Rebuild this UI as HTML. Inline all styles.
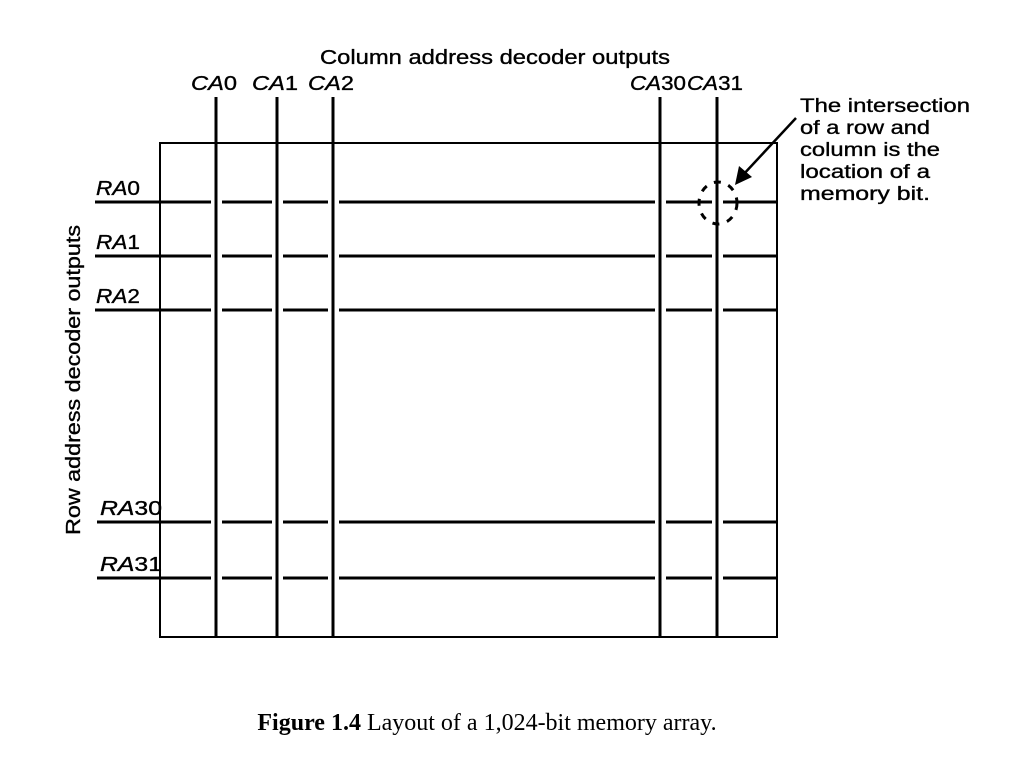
<!DOCTYPE html>
<html><head><meta charset="utf-8"><style>
html,body{margin:0;padding:0;background:#fff;}
svg{display:block;}
text{font-family:"Liberation Sans",Arial,sans-serif;fill:#000;stroke:#000;stroke-width:0.35;}
.cap{stroke:none;}
</style></head><body>
<svg id="fig" width="1020" height="768" viewBox="0 0 1020 768">
<text x="320" y="64" font-size="20" textLength="350" lengthAdjust="spacingAndGlyphs">Column address decoder outputs</text>
<text transform="translate(80,535) rotate(-90)" font-size="20" textLength="310" lengthAdjust="spacingAndGlyphs">Row address decoder outputs</text>
<rect x="160" y="143" width="617" height="494" fill="none" stroke="#000" stroke-width="2"/>
<g id="cols"></g><g id="rows"></g>
<ellipse cx="718" cy="203" rx="19" ry="21" fill="none" stroke="#000" stroke-width="3" stroke-dasharray="7,8"/>
<line x1="796" y1="118" x2="742" y2="176" stroke="#000" stroke-width="2.5"/>
<polygon points="735,185 739,166 752,177" fill="#000"/>
<g font-size="19">
<text x="800" y="112" textLength="170" lengthAdjust="spacingAndGlyphs">The intersection</text>
<text x="800" y="134" textLength="130" lengthAdjust="spacingAndGlyphs">of a row and</text>
<text x="800" y="156" textLength="140" lengthAdjust="spacingAndGlyphs">column is the</text>
<text x="800" y="178" textLength="130" lengthAdjust="spacingAndGlyphs">location of a</text>
<text x="800" y="200" textLength="130" lengthAdjust="spacingAndGlyphs">memory bit.</text>
</g>
<text class="cap" x="487" y="730" font-size="24" text-anchor="middle" style="font-family:'Liberation Serif',serif"><tspan font-weight="bold">Figure 1.4</tspan>  Layout of a 1,024-bit memory array.</text>
</svg>
<script>
const colLabels=["0","1","2","30","31"];
const colX=[216,277,333,660,717];
const rowLabels=["0","1","2","30","31"];
const rowY=[202,256,310,522,578];
const NS="http://www.w3.org/2000/svg";
function mk(tag,attrs,parent){const e=document.createElementNS(NS,tag);for(const k in attrs)e.setAttribute(k,attrs[k]);parent.appendChild(e);return e;}
const cols=document.getElementById('cols'),rows=document.getElementById('rows');
colLabels.forEach((l,i)=>{
  const x=colX[i];
  const ln=mk('line',{x1:x,y1:97,x2:x,y2:637,stroke:'#000','stroke-width':3},cols);
  
  
  const w=l.length>1?56:46;
  const t=mk('text',{x:x-w/2-2,y:90,'font-size':20,textLength:w,lengthAdjust:'spacingAndGlyphs'},cols);
  t.innerHTML='<tspan font-style="italic">CA</tspan>'+l;
  
  
});
rowLabels.forEach((l,i)=>{
  const y=rowY[i];
  const x0=i<3?95:97;
  let pts=[x0];colX.forEach(c=>{pts.push(c-5,c+6);});pts.push(777);
  for(let k=0;k<pts.length;k+=2){
    const s=mk('line',{x1:pts[k],y1:y,x2:pts[k+1],y2:y,stroke:'#000','stroke-width':3},rows);
    
    
  }
  const lx=i<3?96:100, w=l.length>1?62:44;
  const t=mk('text',{x:lx,y:y-7,'font-size':20,textLength:w,lengthAdjust:'spacingAndGlyphs'},rows);
  t.innerHTML='<tspan font-style="italic">RA</tspan>'+l;
  
  
});
</script>
</body></html>
